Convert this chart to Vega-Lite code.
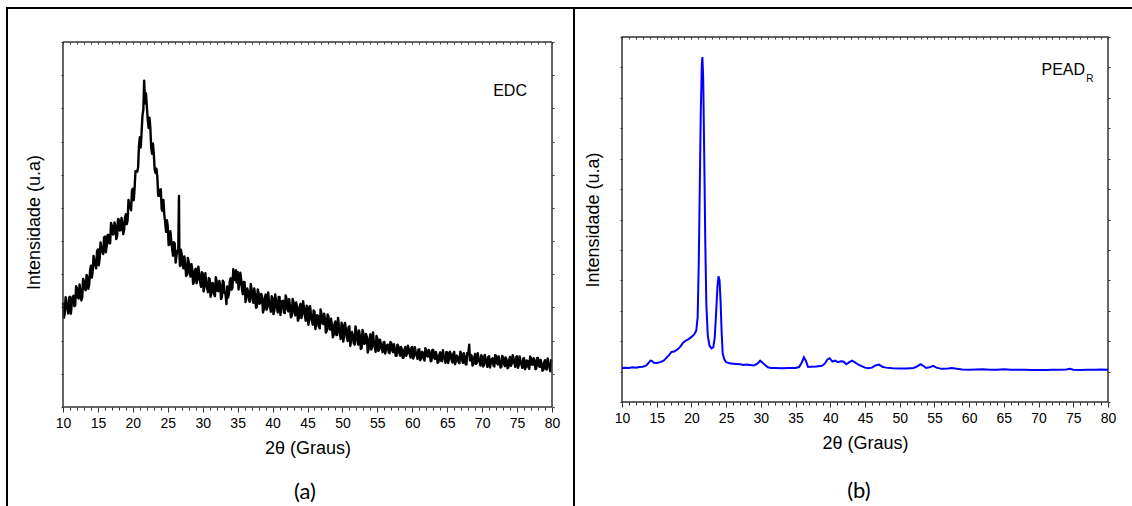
{
  "$schema": "https://vega.github.io/schema/vega-lite/v6.json",
  "background": "white",
  "padding": {"left": 5, "top": 5, "right": 0, "bottom": 0},
  "spacing": -3,
  "config": {
    "view": {"stroke": "#333333", "strokeWidth": 1.5},
    "axis": {"domain": false, "grid": false, "labelFont": "Liberation Sans", "titleFont": "Liberation Sans", "labelColor": "#000000", "titleColor": "#000000", "tickColor": "#333333", "titleFontWeight": "normal"}
  },
  "hconcat": [
    {
      "width": 489,
      "height": 370,
      "view": {"stroke": null},
      "data": {"values": [
        {"t":10,"v":3.15},{"t":10.25,"v":2.81},{"t":10.5,"v":3.13},{"t":10.75,"v":2.82},{"t":11,"v":3.32},{"t":11.25,"v":3.10},{"t":11.5,"v":3.35},{"t":11.75,"v":3.07},
        {"t":12,"v":3.58},{"t":12.25,"v":3.27},{"t":12.5,"v":3.50},{"t":12.75,"v":3.30},{"t":13,"v":3.79},{"t":13.25,"v":3.52},{"t":13.5,"v":3.92},{"t":13.75,"v":3.69},
        {"t":14,"v":4.26},{"t":14.25,"v":4.09},{"t":14.5,"v":4.41},{"t":14.75,"v":4.18},{"t":15,"v":4.75},{"t":15.25,"v":4.48},{"t":15.5,"v":4.76},{"t":15.75,"v":4.61},
        {"t":16,"v":5.14},{"t":16.25,"v":4.84},{"t":16.5,"v":5.19},{"t":16.75,"v":4.93},{"t":17,"v":5.46},{"t":17.25,"v":5.22},{"t":17.5,"v":5.46},{"t":17.75,"v":5.15},
        {"t":18,"v":5.65},{"t":18.25,"v":5.33},{"t":18.5,"v":5.54},{"t":18.75,"v":5.34},{"t":19,"v":5.81},{"t":19.25,"v":5.62},{"t":19.5,"v":6.09},{"t":19.75,"v":5.93},
        {"t":20,"v":6.58},{"t":20.25,"v":6.60},{"t":20.5,"v":7.10},{"t":20.75,"v":7.22},{"t":21,"v":8.13},{"t":21.25,"v":8.28},{"t":21.5,"v":8.96},{"t":21.62,"v":9.83},
        {"t":21.75,"v":9.15},{"t":22,"v":9.06},{"t":22.25,"v":8.41},{"t":22.5,"v":8.42},{"t":22.75,"v":7.63},{"t":23,"v":7.63},{"t":23.25,"v":7.05},{"t":23.5,"v":6.95},
        {"t":23.75,"v":6.36},{"t":24,"v":6.56},{"t":24.25,"v":5.91},{"t":24.5,"v":5.80},{"t":24.75,"v":5.28},{"t":25,"v":5.44},{"t":25.25,"v":4.90},{"t":25.5,"v":5.01},
        {"t":25.75,"v":4.56},{"t":26,"v":4.92},{"t":26.25,"v":4.57},{"t":26.5,"v":4.69},{"t":26.6,"v":6.36},{"t":26.66,"v":4.62},{"t":26.75,"v":4.25},{"t":27,"v":4.60},
        {"t":27.25,"v":4.18},{"t":27.5,"v":4.29},{"t":27.75,"v":3.99},{"t":28,"v":4.36},{"t":28.25,"v":3.93},{"t":28.5,"v":4.16},{"t":28.75,"v":3.76},{"t":29,"v":4.17},
        {"t":29.25,"v":3.85},{"t":29.5,"v":4.00},{"t":29.75,"v":3.62},{"t":30,"v":4.03},{"t":30.25,"v":3.62},{"t":30.5,"v":3.75},{"t":30.75,"v":3.46},{"t":31,"v":3.85},
        {"t":31.25,"v":3.45},{"t":31.5,"v":3.71},{"t":31.75,"v":3.34},{"t":32,"v":3.78},{"t":32.25,"v":3.49},{"t":32.5,"v":3.67},{"t":32.75,"v":3.32},{"t":33,"v":3.76},
        {"t":33.25,"v":3.43},{"t":33.4,"v":3.10},{"t":33.5,"v":3.63},{"t":33.75,"v":3.42},{"t":34,"v":3.88},{"t":34.25,"v":3.59},{"t":34.5,"v":3.95},{"t":34.75,"v":4.12},
        {"t":34.85,"v":3.75},{"t":35,"v":4.07},{"t":35.25,"v":3.72},{"t":35.5,"v":3.85},{"t":35.75,"v":3.40},{"t":36,"v":3.76},{"t":36.25,"v":3.34},{"t":36.5,"v":3.47},
        {"t":36.75,"v":3.17},{"t":37,"v":3.55},{"t":37.25,"v":3.14},{"t":37.5,"v":3.39},{"t":37.75,"v":3.01},{"t":38,"v":3.44},{"t":38.25,"v":3.14},{"t":38.5,"v":3.32},
        {"t":38.75,"v":2.95},{"t":39,"v":3.39},{"t":39.25,"v":3.00},{"t":39.5,"v":3.14},{"t":39.75,"v":2.87},{"t":40,"v":3.27},{"t":40.25,"v":2.90},{"t":40.5,"v":3.19},
        {"t":40.75,"v":2.85},{"t":41,"v":3.32},{"t":41.25,"v":3.02},{"t":41.5,"v":3.20},{"t":41.75,"v":2.83},{"t":42,"v":3.27},{"t":42.25,"v":2.88},{"t":42.5,"v":3.02},
        {"t":42.75,"v":2.75},{"t":43,"v":3.15},{"t":43.25,"v":2.76},{"t":43.5,"v":3.02},{"t":43.75,"v":2.67},{"t":44,"v":3.11},{"t":44.25,"v":2.80},{"t":44.5,"v":2.97},
        {"t":44.75,"v":2.60},{"t":45,"v":3.03},{"t":45.25,"v":2.63},{"t":45.5,"v":2.77},{"t":45.75,"v":2.48},{"t":46,"v":2.88},{"t":46.25,"v":2.48},{"t":46.5,"v":2.74},
        {"t":46.75,"v":2.37},{"t":47,"v":2.81},{"t":47.25,"v":2.50},{"t":47.5,"v":2.67},{"t":47.75,"v":2.30},{"t":48,"v":2.73},{"t":48.25,"v":2.33},{"t":48.5,"v":2.47},
        {"t":48.75,"v":2.18},{"t":49,"v":2.58},{"t":49.25,"v":2.17},{"t":49.5,"v":2.42},{"t":49.75,"v":2.05},{"t":50,"v":2.48},{"t":50.25,"v":2.18},{"t":50.5,"v":2.35},
        {"t":50.75,"v":1.99},{"t":51,"v":2.43},{"t":51.25,"v":2.03},{"t":51.5,"v":2.17},{"t":51.75,"v":1.88},{"t":52,"v":2.28},{"t":52.25,"v":1.88},{"t":52.5,"v":2.14},
        {"t":52.75,"v":1.78},{"t":53,"v":2.23},{"t":53.25,"v":1.93},{"t":53.5,"v":2.11},{"t":53.75,"v":1.75},{"t":54,"v":2.19},{"t":54.25,"v":1.80},{"t":54.5,"v":1.94},
        {"t":54.75,"v":1.66},{"t":55,"v":2.07},{"t":55.25,"v":1.72},{"t":55.5,"v":1.91},{"t":55.75,"v":1.65},{"t":56,"v":1.96},{"t":56.25,"v":1.75},{"t":56.5,"v":1.88},
        {"t":56.75,"v":1.62},{"t":57,"v":1.93},{"t":57.25,"v":1.65},{"t":57.5,"v":1.75},{"t":57.75,"v":1.55},{"t":58,"v":1.83},{"t":58.25,"v":1.55},{"t":58.5,"v":1.74},
        {"t":58.75,"v":1.49},{"t":59,"v":1.81},{"t":59.25,"v":1.61},{"t":59.5,"v":1.74},{"t":59.75,"v":1.49},{"t":60,"v":1.81},{"t":60.25,"v":1.54},{"t":60.5,"v":1.64},
        {"t":60.75,"v":1.45},{"t":61,"v":1.74},{"t":61.25,"v":1.46},{"t":61.5,"v":1.65},{"t":61.75,"v":1.40},{"t":62,"v":1.72},{"t":62.25,"v":1.52},{"t":62.5,"v":1.65},
        {"t":62.75,"v":1.40},{"t":63,"v":1.72},{"t":63.25,"v":1.45},{"t":63.5,"v":1.55},{"t":63.75,"v":1.36},{"t":64,"v":1.65},{"t":64.25,"v":1.38},{"t":64.5,"v":1.57},
        {"t":64.75,"v":1.33},{"t":65,"v":1.65},{"t":65.25,"v":1.45},{"t":65.5,"v":1.59},{"t":65.75,"v":1.34},{"t":66,"v":1.66},{"t":66.25,"v":1.40},{"t":66.5,"v":1.50},
        {"t":66.75,"v":1.32},{"t":67,"v":1.61},{"t":67.25,"v":1.33},{"t":67.5,"v":1.53},{"t":67.75,"v":1.28},{"t":68,"v":1.60},{"t":68.15,"v":1.88},{"t":68.25,"v":1.40},
        {"t":68.5,"v":1.54},{"t":68.75,"v":1.29},{"t":69,"v":1.60},{"t":69.25,"v":1.34},{"t":69.5,"v":1.44},{"t":69.75,"v":1.25},{"t":70,"v":1.53},{"t":70.25,"v":1.26},
        {"t":70.5,"v":1.45},{"t":70.75,"v":1.21},{"t":71,"v":1.53},{"t":71.25,"v":1.33},{"t":71.5,"v":1.47},{"t":71.75,"v":1.22},{"t":72,"v":1.54},{"t":72.25,"v":1.28},
        {"t":72.5,"v":1.39},{"t":72.75,"v":1.21},{"t":73,"v":1.50},{"t":73.25,"v":1.23},{"t":73.5,"v":1.43},{"t":73.75,"v":1.19},{"t":74,"v":1.51},{"t":74.25,"v":1.32},
        {"t":74.5,"v":1.45},{"t":74.75,"v":1.21},{"t":75,"v":1.53},{"t":75.25,"v":1.26},{"t":75.5,"v":1.37},{"t":75.75,"v":1.18},{"t":76,"v":1.47},{"t":76.25,"v":1.20},
        {"t":76.5,"v":1.39},{"t":76.75,"v":1.15},{"t":77,"v":1.47},{"t":77.25,"v":1.27},{"t":77.5,"v":1.41},{"t":77.75,"v":1.16},{"t":78,"v":1.48},{"t":78.25,"v":1.21},
        {"t":78.5,"v":1.31},{"t":78.75,"v":1.12},{"t":79,"v":1.41},{"t":79.25,"v":1.13},{"t":79.5,"v":1.32},{"t":79.75,"v":1.08},{"t":80,"v":1.39},
        {"t":10.125,"v":2.69},{"t":10.375,"v":3.31},{"t":10.625,"v":2.95},{"t":10.875,"v":3.30},{"t":11.125,"v":2.81},{"t":11.375,"v":3.31},{"t":11.625,"v":3.04},{"t":11.875,"v":3.64},
        {"t":12.125,"v":3.30},{"t":12.375,"v":3.69},{"t":12.625,"v":3.21},{"t":12.875,"v":3.86},{"t":13.125,"v":3.55},{"t":13.375,"v":3.98},{"t":13.625,"v":3.56},{"t":13.875,"v":4.11},
        {"t":14.125,"v":3.90},{"t":14.375,"v":4.55},{"t":14.625,"v":4.27},{"t":14.875,"v":4.70},{"t":15.125,"v":4.27},{"t":15.375,"v":4.96},{"t":15.625,"v":4.68},{"t":15.875,"v":5.11},
        {"t":16.125,"v":4.66},{"t":16.375,"v":5.18},{"t":16.625,"v":4.93},{"t":16.875,"v":5.55},{"t":17.125,"v":5.20},{"t":17.375,"v":5.56},{"t":17.625,"v":5.06},{"t":17.875,"v":5.67},
        {"t":18.125,"v":5.32},{"t":18.375,"v":5.70},{"t":18.625,"v":5.21},{"t":18.875,"v":5.71},{"t":19.125,"v":5.51},{"t":19.375,"v":6.24},{"t":19.625,"v":6.02},{"t":19.875,"v":6.53},
        {"t":20.125,"v":6.23},{"t":20.375,"v":7.11},{"t":20.625,"v":7.09},{"t":20.875,"v":7.87},{"t":21.125,"v":7.82},{"t":21.375,"v":8.78},{"t":21.875,"v":9.45},{"t":22.125,"v":8.67},
        {"t":22.375,"v":8.72},{"t":22.625,"v":7.82},{"t":22.875,"v":7.94},{"t":23.125,"v":7.16},{"t":23.375,"v":7.18},{"t":23.625,"v":6.37},{"t":23.875,"v":6.55},{"t":24.125,"v":5.97},
        {"t":24.375,"v":6.24},{"t":24.625,"v":5.57},{"t":24.875,"v":5.63},{"t":25.125,"v":4.88},{"t":25.375,"v":5.30},{"t":25.625,"v":4.76},{"t":25.875,"v":4.97},{"t":26.125,"v":4.35},
        {"t":26.375,"v":4.71},{"t":26.875,"v":4.74},{"t":27.125,"v":4.26},{"t":27.375,"v":4.54},{"t":27.625,"v":3.95},{"t":27.875,"v":4.49},{"t":28.125,"v":4.04},{"t":28.375,"v":4.31},
        {"t":28.625,"v":3.71},{"t":28.875,"v":4.10},{"t":29.125,"v":3.73},{"t":29.375,"v":4.23},{"t":29.625,"v":3.78},{"t":29.875,"v":4.06},{"t":30.125,"v":3.48},{"t":30.375,"v":4.03},
        {"t":30.625,"v":3.60},{"t":30.875,"v":3.89},{"t":31.125,"v":3.32},{"t":31.375,"v":3.74},{"t":31.625,"v":3.40},{"t":31.875,"v":3.91},{"t":32.125,"v":3.50},{"t":32.375,"v":3.80},
        {"t":32.625,"v":3.25},{"t":32.875,"v":3.81},{"t":33.125,"v":3.43},{"t":33.625,"v":3.30},{"t":33.875,"v":3.78},{"t":34.125,"v":3.53},{"t":34.375,"v":4.15},{"t":34.625,"v":3.83},
        {"t":35.125,"v":3.54},{"t":35.375,"v":4.05},{"t":35.625,"v":3.56},{"t":35.875,"v":3.77},{"t":36.125,"v":3.16},{"t":36.375,"v":3.57},{"t":36.625,"v":3.21},{"t":36.875,"v":3.71},
        {"t":37.125,"v":3.28},{"t":37.375,"v":3.57},{"t":37.625,"v":2.99},{"t":37.875,"v":3.54},{"t":38.125,"v":3.11},{"t":38.375,"v":3.41},{"t":38.625,"v":2.85},{"t":38.875,"v":3.26},
        {"t":39.125,"v":2.93},{"t":39.375,"v":3.45},{"t":39.625,"v":3.04},{"t":39.875,"v":3.34},{"t":40.125,"v":2.80},{"t":40.375,"v":3.39},{"t":40.625,"v":2.99},{"t":40.875,"v":3.32},
        {"t":41.125,"v":2.77},{"t":41.375,"v":3.19},{"t":41.625,"v":2.85},{"t":41.875,"v":3.36},{"t":42.125,"v":2.95},{"t":42.375,"v":3.25},{"t":42.625,"v":2.70},{"t":42.875,"v":3.26},
        {"t":43.125,"v":2.85},{"t":43.375,"v":3.15},{"t":43.625,"v":2.60},{"t":43.875,"v":3.02},{"t":44.125,"v":2.68},{"t":44.375,"v":3.19},{"t":44.625,"v":2.76},{"t":44.875,"v":3.05},
        {"t":45.125,"v":2.48},{"t":45.375,"v":3.04},{"t":45.625,"v":2.62},{"t":45.875,"v":2.91},{"t":46.125,"v":2.35},{"t":46.375,"v":2.77},{"t":46.625,"v":2.43},{"t":46.875,"v":2.94},
        {"t":47.125,"v":2.52},{"t":47.375,"v":2.81},{"t":47.625,"v":2.24},{"t":47.875,"v":2.79},{"t":48.125,"v":2.36},{"t":48.375,"v":2.66},{"t":48.625,"v":2.10},{"t":48.875,"v":2.51},
        {"t":49.125,"v":2.17},{"t":49.375,"v":2.68},{"t":49.625,"v":2.25},{"t":49.875,"v":2.54},{"t":50.125,"v":1.97},{"t":50.375,"v":2.53},{"t":50.625,"v":2.10},{"t":50.875,"v":2.40},
        {"t":51.125,"v":1.84},{"t":51.375,"v":2.26},{"t":51.625,"v":1.92},{"t":51.875,"v":2.43},{"t":52.125,"v":2.01},{"t":52.375,"v":2.31},{"t":52.625,"v":1.75},{"t":52.875,"v":2.32},
        {"t":53.125,"v":1.90},{"t":53.375,"v":2.20},{"t":53.625,"v":1.64},{"t":53.875,"v":2.06},{"t":54.125,"v":1.73},{"t":54.375,"v":2.25},{"t":54.625,"v":1.83},{"t":54.875,"v":2.14},
        {"t":55.125,"v":1.69},{"t":55.375,"v":2.03},{"t":55.625,"v":1.77},{"t":55.875,"v":1.95},{"t":56.125,"v":1.61},{"t":56.375,"v":1.86},{"t":56.625,"v":1.65},{"t":56.875,"v":1.96},
        {"t":57.125,"v":1.70},{"t":57.375,"v":1.89},{"t":57.625,"v":1.54},{"t":57.875,"v":1.88},{"t":58.125,"v":1.63},{"t":58.375,"v":1.81},{"t":58.625,"v":1.48},{"t":58.875,"v":1.73},
        {"t":59.125,"v":1.54},{"t":59.375,"v":1.85},{"t":59.625,"v":1.60},{"t":59.875,"v":1.79},{"t":60.125,"v":1.46},{"t":60.375,"v":1.80},{"t":60.625,"v":1.55},{"t":60.875,"v":1.73},
        {"t":61.125,"v":1.41},{"t":61.375,"v":1.66},{"t":61.625,"v":1.46},{"t":61.875,"v":1.77},{"t":62.125,"v":1.53},{"t":62.375,"v":1.72},{"t":62.625,"v":1.38},{"t":62.875,"v":1.72},
        {"t":63.125,"v":1.48},{"t":63.375,"v":1.66},{"t":63.625,"v":1.33},{"t":63.875,"v":1.58},{"t":64.125,"v":1.39},{"t":64.375,"v":1.71},{"t":64.625,"v":1.46},{"t":64.875,"v":1.66},
        {"t":65.125,"v":1.33},{"t":65.375,"v":1.67},{"t":65.625,"v":1.43},{"t":65.875,"v":1.61},{"t":66.125,"v":1.29},{"t":66.375,"v":1.55},{"t":66.625,"v":1.35},{"t":66.875,"v":1.67},
        {"t":67.125,"v":1.43},{"t":67.375,"v":1.62},{"t":67.625,"v":1.29},{"t":67.875,"v":1.63},{"t":68.375,"v":1.57},{"t":68.625,"v":1.25},{"t":68.875,"v":1.50},{"t":69.125,"v":1.30},
        {"t":69.375,"v":1.62},{"t":69.625,"v":1.37},{"t":69.875,"v":1.56},{"t":70.125,"v":1.22},{"t":70.375,"v":1.57},{"t":70.625,"v":1.32},{"t":70.875,"v":1.51},{"t":71.125,"v":1.19},
        {"t":71.375,"v":1.44},{"t":71.625,"v":1.25},{"t":71.875,"v":1.56},{"t":72.125,"v":1.32},{"t":72.375,"v":1.52},{"t":72.625,"v":1.19},{"t":72.875,"v":1.54},{"t":73.125,"v":1.30},
        {"t":73.375,"v":1.49},{"t":73.625,"v":1.17},{"t":73.875,"v":1.43},{"t":74.125,"v":1.24},{"t":74.375,"v":1.56},{"t":74.625,"v":1.31},{"t":74.875,"v":1.51},{"t":75.125,"v":1.18},
        {"t":75.375,"v":1.52},{"t":75.625,"v":1.28},{"t":75.875,"v":1.46},{"t":76.125,"v":1.14},{"t":76.375,"v":1.40},{"t":76.625,"v":1.20},{"t":76.875,"v":1.52},{"t":77.125,"v":1.28},
        {"t":77.375,"v":1.47},{"t":77.625,"v":1.14},{"t":77.875,"v":1.48},{"t":78.125,"v":1.24},{"t":78.375,"v":1.42},{"t":78.625,"v":1.09},{"t":78.875,"v":1.34},{"t":79.125,"v":1.15},
        {"t":79.375,"v":1.46},{"t":79.625,"v":1.21},{"t":79.875,"v":1.41}
      ]},
      "layer": [
        {
          "mark": {"type": "line", "color": "#000000", "strokeWidth": 2.4, "strokeJoin": "round"},
          "encoding": {
            "x": {"field": "t", "type": "quantitative", "scale": {"domain": [10, 80], "nice": false, "zero": false},
              "axis": {"orient": "bottom", "tickCount": 70, "labelExpr": "datum.value % 5 === 0 ? datum.label : ''", "labelOverlap": false, "labelFlush": false, "labelFontSize": 14, "labelPadding": 4,
                "tickSize": {"condition": {"test": "datum.value % 5 === 0", "value": 5}, "value": 3}, "title": "2θ (Graus)", "titleFontSize": 18, "titlePadding": 9}},
            "y": {"field": "v", "type": "quantitative", "scale": {"domain": [0, 11.1507], "nice": false, "zero": false},
              "axis": {"orient": "left", "tickCount": 11, "labels": false, "tickSize": 2, "title": "Intensidade (u.a)", "titleFontSize": 18, "titlePadding": 17}}
          }
        },
        {
          "mark": {"type": "point", "opacity": 0},
          "encoding": {
            "x": {"field": "t", "type": "quantitative", "axis": {"orient": "top", "offset": -5, "tickCount": 70, "labels": false, "title": null, "tickSize": -2}},
            "y": {"field": "v", "type": "quantitative", "axis": {"orient": "right", "tickCount": 11, "labels": false, "title": null, "tickSize": 2}}
          }
        },
        {
          "data": {"values": [{}]},
          "mark": {"type": "rule", "color": "#333333", "strokeWidth": 1.5},
          "encoding": {"x": {"datum": 10, "axis": null}, "y": {"datum": 0, "axis": null}, "y2": {"datum": 11}}
        },
        {
          "data": {"values": [{}]},
          "mark": {"type": "rule", "color": "#333333", "strokeWidth": 1.5},
          "encoding": {"x": {"datum": 80, "axis": null}, "y": {"datum": 0, "axis": null}, "y2": {"datum": 11}}
        },
        {
          "data": {"values": [{}]},
          "mark": {"type": "rule", "color": "#333333", "strokeWidth": 1.5},
          "encoding": {"x": {"datum": 10, "axis": null}, "x2": {"datum": 80}, "y": {"datum": 11, "axis": null}}
        },
        {
          "data": {"values": [{}]},
          "mark": {"type": "rule", "color": "#333333", "strokeWidth": 1.5},
          "encoding": {"x": {"datum": 10, "axis": null}, "x2": {"datum": 80}, "y": {"datum": 0, "axis": null}}
        },
        {
          "data": {"values": [{}]},
          "mark": {"type": "rule", "color": "#000000", "strokeWidth": 2, "strokeCap": "square"},
          "encoding": {"x": {"datum": 1.984, "axis": null}, "y": {"datum": 12.025, "axis": null}, "y2": {"datum": -2.953}}
        },
        {
          "data": {"values": [{}]},
          "mark": {"type": "rule", "color": "#000000", "strokeWidth": 2, "strokeCap": "square"},
          "encoding": {"x": {"datum": 83.149, "axis": null}, "y": {"datum": 12.025, "axis": null}, "y2": {"datum": -2.953}}
        },
        {
          "data": {"values": [{}]},
          "mark": {"type": "rule", "color": "#000000", "strokeWidth": 2, "strokeCap": "square"},
          "encoding": {"x": {"datum": 1.984, "axis": null}, "x2": {"datum": 83.149}, "y": {"datum": 12.025, "axis": null}}
        },
        {
          "data": {"values": [{}]},
          "mark": {"type": "text", "text": "EDC", "font": "Liberation Sans", "fontSize": 16, "align": "center", "baseline": "middle", "color": "#000000"},
          "encoding": {"x": {"datum": 74, "axis": null}, "y": {"datum": 9.52, "axis": null}}
        },
        {
          "data": {"values": [{}]},
          "mark": {"type": "text", "text": "(a)", "font": "Lato", "fontSize": 22, "align": "center", "baseline": "middle", "color": "#000000"},
          "encoding": {"x": {"datum": 44.64, "axis": null}, "y": {"datum": -2.56, "axis": null}}
        }
      ],
      "resolve": {"axis": {"x": "independent", "y": "independent"}}
    },
    {
      "width": 486,
      "height": 365,
      "data": {"values": [
        {"t":10,"v":1.12},{"t":10.5,"v":1.13},{"t":11,"v":1.12},{"t":11.5,"v":1.14},{"t":12,"v":1.13},{"t":12.5,"v":1.15},{"t":13,"v":1.16},{"t":13.5,"v":1.20},
        {"t":13.8,"v":1.28},{"t":14.1,"v":1.36},{"t":14.3,"v":1.35},{"t":14.6,"v":1.29},{"t":15,"v":1.28},{"t":15.5,"v":1.31},{"t":16,"v":1.36},{"t":16.4,"v":1.45},
        {"t":16.8,"v":1.55},{"t":17.1,"v":1.64},{"t":17.5,"v":1.66},{"t":18,"v":1.73},{"t":18.4,"v":1.82},{"t":18.8,"v":1.95},{"t":19.2,"v":2.02},{"t":19.6,"v":2.07},
        {"t":20,"v":2.14},{"t":20.4,"v":2.22},{"t":20.7,"v":2.35},{"t":20.9,"v":2.8},{"t":21.05,"v":4.5},{"t":21.2,"v":7.0},{"t":21.35,"v":9.6},{"t":21.5,"v":11.1},
        {"t":21.58,"v":11.34},{"t":21.7,"v":10.6},{"t":21.85,"v":8.0},{"t":22,"v":5.2},{"t":22.15,"v":3.2},{"t":22.35,"v":2.2},{"t":22.6,"v":1.85},{"t":22.9,"v":1.76},
        {"t":23.15,"v":1.8},{"t":23.35,"v":2.1},{"t":23.55,"v":2.9},{"t":23.75,"v":3.8},{"t":23.9,"v":4.13},{"t":24.05,"v":4.0},{"t":24.2,"v":3.3},{"t":24.35,"v":2.3},
        {"t":24.5,"v":1.6},{"t":24.7,"v":1.42},{"t":25,"v":1.31},{"t":25.5,"v":1.27},{"t":26,"v":1.26},{"t":26.5,"v":1.25},{"t":27,"v":1.24},{"t":27.5,"v":1.22},
        {"t":28,"v":1.23},{"t":28.5,"v":1.22},{"t":29,"v":1.20},{"t":29.5,"v":1.26},{"t":29.9,"v":1.36},{"t":30.2,"v":1.30},{"t":30.6,"v":1.22},{"t":31,"v":1.14},
        {"t":31.5,"v":1.12},{"t":32,"v":1.12},{"t":33,"v":1.11},{"t":34,"v":1.12},{"t":35,"v":1.12},{"t":35.5,"v":1.15},{"t":35.9,"v":1.30},{"t":36.2,"v":1.47},
        {"t":36.5,"v":1.35},{"t":36.8,"v":1.15},{"t":37.2,"v":1.16},{"t":38,"v":1.17},{"t":38.8,"v":1.19},{"t":39.2,"v":1.26},{"t":39.6,"v":1.40},{"t":39.9,"v":1.44},
        {"t":40.3,"v":1.33},{"t":40.7,"v":1.36},{"t":41.1,"v":1.31},{"t":41.5,"v":1.34},{"t":41.9,"v":1.33},{"t":42.3,"v":1.24},{"t":42.7,"v":1.30},{"t":43.1,"v":1.36},
        {"t":43.5,"v":1.31},{"t":44,"v":1.24},{"t":44.5,"v":1.18},{"t":45,"v":1.13},{"t":45.5,"v":1.11},{"t":46,"v":1.13},{"t":46.5,"v":1.20},{"t":47,"v":1.23},
        {"t":47.5,"v":1.16},{"t":48,"v":1.13},{"t":49,"v":1.11},{"t":50,"v":1.10},{"t":51,"v":1.10},{"t":52,"v":1.12},{"t":52.6,"v":1.18},{"t":53,"v":1.24},
        {"t":53.4,"v":1.19},{"t":53.8,"v":1.12},{"t":54.3,"v":1.14},{"t":54.8,"v":1.19},{"t":55.3,"v":1.13},{"t":56,"v":1.09},{"t":57,"v":1.10},{"t":57.5,"v":1.12},
        {"t":58,"v":1.10},{"t":59,"v":1.07},{"t":60,"v":1.06},{"t":61,"v":1.07},{"t":62,"v":1.08},{"t":63,"v":1.06},{"t":64,"v":1.06},{"t":65,"v":1.08},
        {"t":66,"v":1.06},{"t":67,"v":1.06},{"t":68,"v":1.06},{"t":69,"v":1.05},{"t":70,"v":1.05},{"t":71,"v":1.05},{"t":72,"v":1.06},{"t":73,"v":1.06},
        {"t":74,"v":1.07},{"t":74.5,"v":1.09},{"t":75,"v":1.06},{"t":76,"v":1.05},{"t":77,"v":1.06},{"t":78,"v":1.06},{"t":79,"v":1.07},{"t":80,"v":1.06}
      ]},
      "layer": [
        {
          "mark": {"type": "line", "color": "#0000ff", "strokeWidth": 2},
          "encoding": {
            "x": {"field": "t", "type": "quantitative", "scale": {"domain": [10, 80], "nice": false, "zero": false},
              "axis": {"orient": "bottom", "tickCount": 70, "labelExpr": "datum.value % 5 === 0 ? datum.label : ''", "labelOverlap": false, "labelFlush": false, "labelFontSize": 14, "labelPadding": 4,
                "tickSize": {"condition": {"test": "datum.value % 5 === 0", "value": 5}, "value": 3}, "title": "2θ (Graus)", "titleFontSize": 18, "titlePadding": 9}},
            "y": {"field": "v", "type": "quantitative", "scale": {"domain": [0, 12], "nice": false, "zero": false},
              "axis": {"orient": "left", "tickCount": 12, "labels": false, "tickSize": 2, "title": "Intensidade (u.a)", "titleFontSize": 18, "titlePadding": 17}}
          }
        },
        {
          "mark": {"type": "point", "opacity": 0},
          "encoding": {
            "x": {"field": "t", "type": "quantitative", "axis": {"orient": "top", "tickCount": 70, "labels": false, "title": null, "tickSize": -2}},
            "y": {"field": "v", "type": "quantitative", "axis": {"orient": "right", "tickCount": 12, "labels": false, "title": null, "tickSize": 2}}
          }
        },
        {
          "data": {"values": [{}]},
          "mark": {"type": "rule", "color": "#000000", "strokeWidth": 2, "strokeCap": "square"},
          "encoding": {"x": {"datum": 3.374, "axis": null}, "x2": {"datum": 83.312}, "y": {"datum": 12.953, "axis": null}}
        },
        {
          "data": {"values": [{}]},
          "mark": {"type": "text", "text": "PEAD", "font": "Liberation Sans", "fontSize": 16, "align": "right", "baseline": "middle", "color": "#000000"},
          "encoding": {"x": {"datum": 76.7, "axis": null}, "y": {"datum": 10.93, "axis": null}}
        },
        {
          "data": {"values": [{}]},
          "mark": {"type": "text", "text": "R", "font": "Liberation Sans", "fontSize": 10, "align": "left", "baseline": "middle", "color": "#000000"},
          "encoding": {"x": {"datum": 76.85, "axis": null}, "y": {"datum": 10.62, "axis": null}}
        },
        {
          "data": {"values": [{}]},
          "mark": {"type": "text", "text": "(b)", "font": "Lato", "fontSize": 22, "align": "center", "baseline": "middle", "color": "#000000"},
          "encoding": {"x": {"datum": 44.13, "axis": null}, "y": {"datum": -2.93, "axis": null}}
        }
      ],
      "resolve": {"axis": {"x": "independent", "y": "independent"}}
    }
  ]
}
